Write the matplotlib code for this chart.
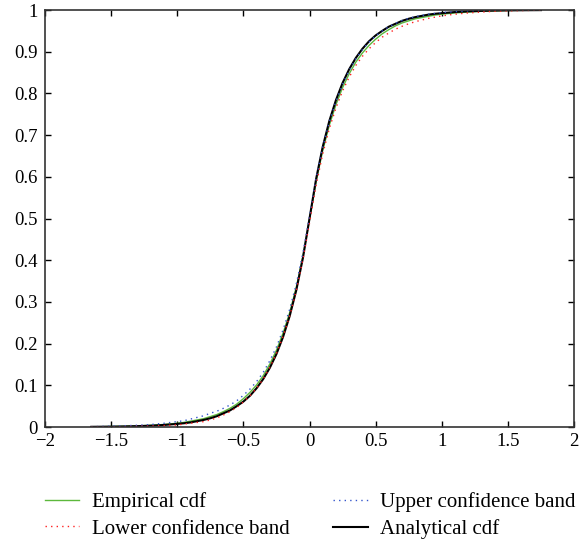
import matplotlib
matplotlib.use("Agg")
import matplotlib.pyplot as plt

plt.rcParams['font.family'] = ['Liberation Serif', 'DejaVu Serif']
plt.rcParams['font.size'] = 13.5

x_vals = [-1.65, -1.5, -1.4, -1.3, -1.2, -1.1, -1.0, -0.95, -0.9, -0.85, -0.8, -0.75,
          -0.7, -0.65, -0.6, -0.55, -0.5, -0.45, -0.4, -0.35, -0.3, -0.25, -0.2, -0.15,
          -0.1, -0.05, 0.0, 0.05, 0.1, 0.15, 0.2, 0.25, 0.3, 0.35, 0.4, 0.45, 0.5, 0.55,
          0.6, 0.65, 0.7, 0.75, 0.8, 0.85, 0.9, 0.95, 1.0, 1.1, 1.2, 1.3, 1.4, 1.5, 1.65, 1.75]

analytical = [0.0005, 0.0009, 0.0014, 0.0021, 0.0032, 0.0049, 0.0075, 0.009, 0.011, 0.014, 0.017, 0.021,
              0.026, 0.033, 0.040, 0.050, 0.061, 0.075, 0.093, 0.115, 0.142, 0.175, 0.216, 0.266,
              0.328, 0.405, 0.500, 0.595, 0.672, 0.734, 0.784, 0.825, 0.858, 0.885, 0.907, 0.925, 0.939, 0.950,
              0.960, 0.967, 0.974, 0.979, 0.983, 0.986, 0.989, 0.991, 0.9925, 0.9951, 0.9968, 0.9979, 0.9986, 0.9991, 0.9995, 0.9997]

empirical = [0.0004, 0.0012, 0.0018, 0.0027, 0.0041, 0.0061, 0.009, 0.011, 0.014, 0.017, 0.020, 0.025,
             0.030, 0.037, 0.045, 0.055, 0.068, 0.083, 0.101, 0.123, 0.151, 0.184, 0.225, 0.274,
             0.335, 0.409, 0.497, 0.588, 0.663, 0.724, 0.773, 0.814, 0.847, 0.875, 0.897, 0.915, 0.930, 0.943,
             0.953, 0.962, 0.969, 0.974, 0.979, 0.982, 0.985, 0.988, 0.990, 0.993, 0.995, 0.997, 0.998, 0.999, 0.9995, 1.000]

lower_band = [0.0002, 0.0006, 0.0010, 0.0015, 0.0023, 0.0035, 0.005, 0.007, 0.009, 0.011, 0.013, 0.017,
              0.022, 0.029, 0.037, 0.047, 0.060, 0.075, 0.093, 0.115, 0.143, 0.176, 0.217, 0.266,
              0.327, 0.401, 0.489, 0.580, 0.655, 0.716, 0.765, 0.806, 0.839, 0.867, 0.889, 0.907, 0.922, 0.935,
              0.945, 0.954, 0.961, 0.967, 0.972, 0.976, 0.980, 0.983, 0.986, 0.990, 0.993, 0.995, 0.997, 0.998, 0.999, 0.9995]

upper_band = [0.0008, 0.002, 0.003, 0.0042, 0.006, 0.009, 0.013, 0.015, 0.019, 0.023, 0.027, 0.033,
              0.038, 0.045, 0.053, 0.063, 0.076, 0.091, 0.109, 0.131, 0.159, 0.192, 0.233, 0.282,
              0.343, 0.417, 0.505, 0.596, 0.671, 0.732, 0.781, 0.822, 0.855, 0.883, 0.905, 0.923, 0.938, 0.950,
              0.960, 0.968, 0.975, 0.980, 0.984, 0.987, 0.990, 0.992, 0.994, 0.996, 0.998, 0.999, 0.9995, 1.000, 1.000, 1.000]

x_ticks = [-2, -1.5, -1, -0.5, 0, 0.5, 1, 1.5, 2]
x_tick_labels = ["\u22122", "\u22121.5", "\u22121", "\u22120.5", "0", "0.5", "1", "1.5", "2"]
y_ticks = [0, 0.1, 0.2, 0.3, 0.4, 0.5, 0.6, 0.7, 0.8, 0.9, 1]
y_tick_labels = ["0", "0.1", "0.2", "0.3", "0.4", "0.5", "0.6", "0.7", "0.8", "0.9", "1"]

fig = plt.figure(figsize=(5.79, 5.41), dpi=100)
ax = fig.add_axes([0.0777, 0.2107, 0.9137, 0.7708])

h_emp, = ax.plot(x_vals, empirical, color='#5cb83c', lw=1.0)
h_an, = ax.plot(x_vals, analytical, color='black', lw=1.5)
h_up, = ax.plot(x_vals, upper_band, color='#3355cc', lw=1.0, ls=(0, (1, 3)))
h_lo, = ax.plot(x_vals, lower_band, color='#ff2020', lw=1.0, ls=(0, (1, 3)))

ax.set_xlim(-2, 2)
ax.set_ylim(0, 1)
ax.set_xticks(x_ticks)
ax.set_xticklabels(x_tick_labels)
ax.set_yticks(y_ticks)
ax.set_yticklabels(y_tick_labels)
ax.tick_params(axis='both', direction='in', top=True, right=True, length=4, width=1)
ax.tick_params(axis='x', pad=4)
ax.tick_params(axis='y', pad=5)
for s in ax.spines.values():
    s.set_color('#333333')
    s.set_linewidth(1.2)

fig.legend(handles=[h_emp, h_lo, h_up, h_an],
           labels=['Empirical cdf', 'Lower confidence band', 'Upper confidence band', 'Analytical cdf'],
           ncol=2, frameon=False, loc='upper left', bbox_to_anchor=(45 / 579, 1 - 492 / 541),
           borderaxespad=0, borderpad=0,
           handlelength=1.65, handletextpad=0.6, columnspacing=2.1, labelspacing=0.35,
           fontsize=15)

fig.savefig('out.png', dpi=100)
